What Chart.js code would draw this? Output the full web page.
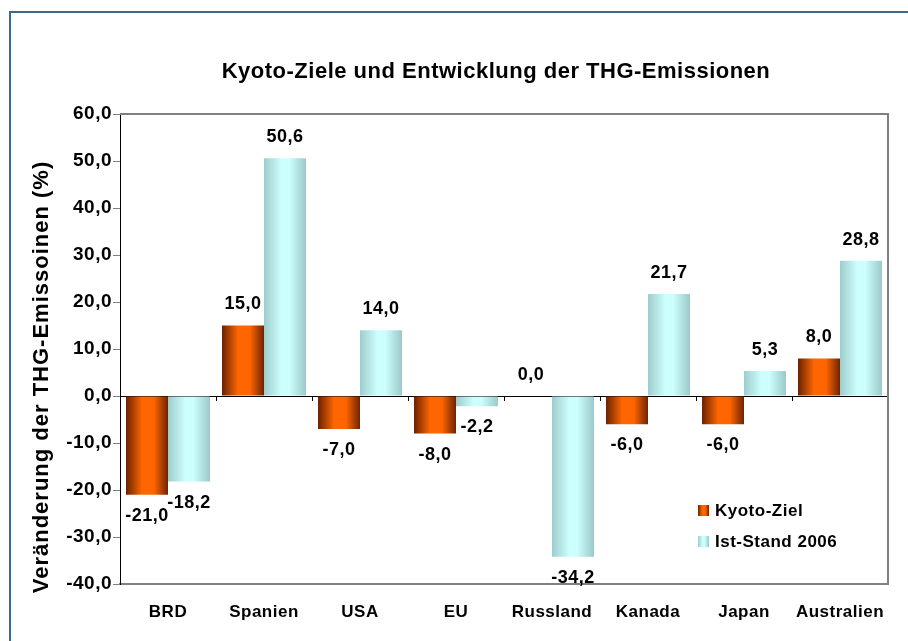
<!DOCTYPE html>
<html>
<head>
<meta charset="utf-8">
<title>Kyoto-Ziele und Entwicklung der THG-Emissionen</title>
<script src="https://cdn.jsdelivr.net/npm/chart.js@4.4.1/dist/chart.umd.min.js"></script>
<style>
    html, body { margin: 0; padding: 0; background: #fff; overflow: hidden; }
    #frame {
        position: absolute; left: 9px; top: 11px; width: 920px; height: 660px;
        border-left: 2px solid #3f6a84; border-top: 2px solid #3f6a84;
    }
    #wrap { position: absolute; left: 0; top: 0; width: 908px; height: 641px; }
</style>
</head>
<body>
<div id="frame"></div>
<div id="wrap"><canvas id="kyotoChart"></canvas></div>
<script>
// --- Data ---
const countries = ['BRD', 'Spanien', 'USA', 'EU', 'Russland', 'Kanada', 'Japan', 'Australien'];
const kyotoZiel = [-21.0, 15.0, -7.0, -8.0, 0.0, -6.0, -6.0, 8.0];
const istStand2006 = [-18.2, 50.6, 14.0, -2.2, -34.2, 21.7, 5.3, 28.8];
const yTicks = { min: -40, max: 60, step: 10 };

const chartTitle = 'Kyoto-Ziele und Entwicklung der THG-Emissionen';
const yAxisTitle = 'Veränderung der THG-Emissoinen (%)';

// --- Styles ---
const FONT = '"Liberation Sans", Arial, sans-serif';
const ORANGE_STOPS = [[0, '#6a2200'], [0.38, '#ff6600'], [0.66, '#ff6600'], [1, '#6e2400']];
const CYAN_STOPS = [[0, '#9fcdcd'], [0.42, '#ccffff'], [0.6, '#ccffff'], [1, '#9cc8c8']];
const CAT_PCT = 0.875;

// German number format: one decimal, comma
function fmt(v) {
    return Number(v).toFixed(1).replace('.', ',');
}

// horizontal gradient across each bar, worked out from the x scale
function barFill(stops, fallback) {
    return function(ctx) {
        const chart = ctx.chart;
        const xs = chart.scales.x;
        if (!chart.chartArea || !xs || ctx.dataIndex === undefined) return fallback;
        const n = chart.data.labels.length;
        const barW = xs.width / n * CAT_PCT / 2;
        const left = xs.getPixelForValue(ctx.dataIndex) - barW + ctx.datasetIndex * barW;
        const g = chart.ctx.createLinearGradient(left, 0, left + barW, 0);
        stops.forEach(function(s) { g.addColorStop(s[0], s[1]); });
        return g;
    };
}

// slightly wider text spacing for everything on the canvas (Excel look)
const spacing = {
    id: 'spacing',
    beforeUpdate(chart) { chart.ctx.letterSpacing = '0.5px'; },
    beforeDraw(chart) { chart.ctx.letterSpacing = '0.5px'; }
};

// --- Plugin: frame, title, axis title, value labels, legend ---
const decorations = {
    id: 'decorations',
    afterDatasetsDraw(chart) {
        const ctx = chart.ctx;
        const area = chart.chartArea;
        const xs = chart.scales.x;
        const ys = chart.scales.y;
        const y0 = ys.getPixelForValue(0);
        const catW = xs.width / chart.data.labels.length;

        ctx.save();
        // small category ticks under the zero line
        ctx.strokeStyle = '#000';
        ctx.lineWidth = 1;
        for (let i = 0; i < chart.data.labels.length - 1; i++) {
            const x = Math.round(xs.getPixelForValue(i) + catW / 2) + 0.5;
            ctx.beginPath();
            ctx.moveTo(x, y0);
            ctx.lineTo(x, y0 + 5);
            ctx.stroke();
        }

        // grey plot frame, top and right
        ctx.strokeStyle = '#808080';
        ctx.lineWidth = 2;
        ctx.beginPath();
        ctx.moveTo(area.left, area.top);
        ctx.lineTo(area.right, area.top);
        ctx.lineTo(area.right, area.bottom);
        ctx.stroke();

        // value labels
        ctx.fillStyle = '#000';
        ctx.letterSpacing = '0.5px';
        ctx.font = 'bold 18px ' + FONT;
        ctx.textAlign = 'center';
        ctx.textBaseline = 'middle';
        chart.data.datasets.forEach(function(ds, di) {
            const meta = chart.getDatasetMeta(di);
            meta.data.forEach(function(el, i) {
                const v = ds.data[i];
                const y = v >= 0 ? el.y - 21 : el.y + 21;
                ctx.fillText(fmt(v), el.x, y);
            });
        });

        // title
        ctx.letterSpacing = '0.5px';
        ctx.font = 'bold 22px ' + FONT;
        ctx.fillText(chartTitle, (area.left + area.right) / 2 - 8, area.top - 42);

        // y axis title
        ctx.save();
        ctx.letterSpacing = '1px';
        ctx.font = 'bold 22px ' + FONT;
        ctx.translate(42, (area.top + area.bottom) / 2 + 28);
        ctx.rotate(-Math.PI / 2);
        ctx.fillText(yAxisTitle, 0, 0);
        ctx.restore();

        // legend inside the plot
        const lx = area.right - 190;
        const rows = [area.bottom - 74, area.bottom - 43];
        ctx.textAlign = 'left';
        ctx.letterSpacing = '0.5px';
        ctx.font = 'bold 17px ' + FONT;
        chart.data.datasets.forEach(function(ds, di) {
            const cy = rows[di];
            const stops = di === 0 ? ORANGE_STOPS : CYAN_STOPS;
            const g = ctx.createLinearGradient(lx, 0, lx + 11, 0);
            stops.forEach(function(s) { g.addColorStop(s[0], s[1]); });
            ctx.fillStyle = g;
            ctx.fillRect(lx, cy - 5, 11, 11);
            ctx.fillStyle = '#000';
            ctx.fillText(ds.label, lx + 17, cy + 1);
        });
        ctx.restore();
    }
};

// --- Chart ---
function renderChart() {
    const ctx = document.getElementById('kyotoChart').getContext('2d');

    new Chart(ctx, {
        type: 'bar',
        data: {
            labels: countries,
            datasets: [
                {
                    label: 'Kyoto-Ziel',
                    data: kyotoZiel,
                    backgroundColor: barFill(ORANGE_STOPS, '#ff6600'),
                    borderWidth: 0,
                    categoryPercentage: CAT_PCT,
                    barPercentage: 1
                },
                {
                    label: 'Ist-Stand 2006',
                    data: istStand2006,
                    backgroundColor: barFill(CYAN_STOPS, '#ccffff'),
                    borderWidth: 0,
                    categoryPercentage: CAT_PCT,
                    barPercentage: 1
                }
            ]
        },
        options: {
            responsive: true,
            maintainAspectRatio: false,
            animation: false,
            layout: { padding: { left: 0, right: 20, top: 114, bottom: 0 } },
            plugins: {
                legend: { display: false },
                title: { display: false },
                tooltip: { enabled: false }
            },
            scales: {
                x: {
                    afterFit: function(scale) { scale.height = 57; },
                    ticks: {
                        color: '#000',
                        font: { family: FONT, size: 17, weight: 'bold' },
                        padding: 18
                    },
                    grid: { drawOnChartArea: false, drawTicks: false, color: 'rgba(0,0,0,0)' },
                    border: { display: true, color: '#808080', width: 2 }
                },
                y: {
                    min: yTicks.min,
                    max: yTicks.max,
                    afterFit: function(scale) { scale.width = 120; },
                    ticks: {
                        stepSize: yTicks.step,
                        color: '#000',
                        font: { family: FONT, size: 19, weight: 'bold' },
                        padding: 1,
                        callback: function(value) { return fmt(value); }
                    },
                    grid: {
                        drawOnChartArea: true,
                        color: function(c) {
                            return c.tick && c.tick.value === 0 ? '#000' : 'rgba(0,0,0,0)';
                        },
                        tickColor: '#808080',
                        tickLength: 7,
                        lineWidth: 1
                    },
                    border: { color: '#000', width: 1 }
                }
            }
        },
        plugins: [spacing, decorations]
    });
}

document.addEventListener('DOMContentLoaded', renderChart);
</script>
</body>
</html>
